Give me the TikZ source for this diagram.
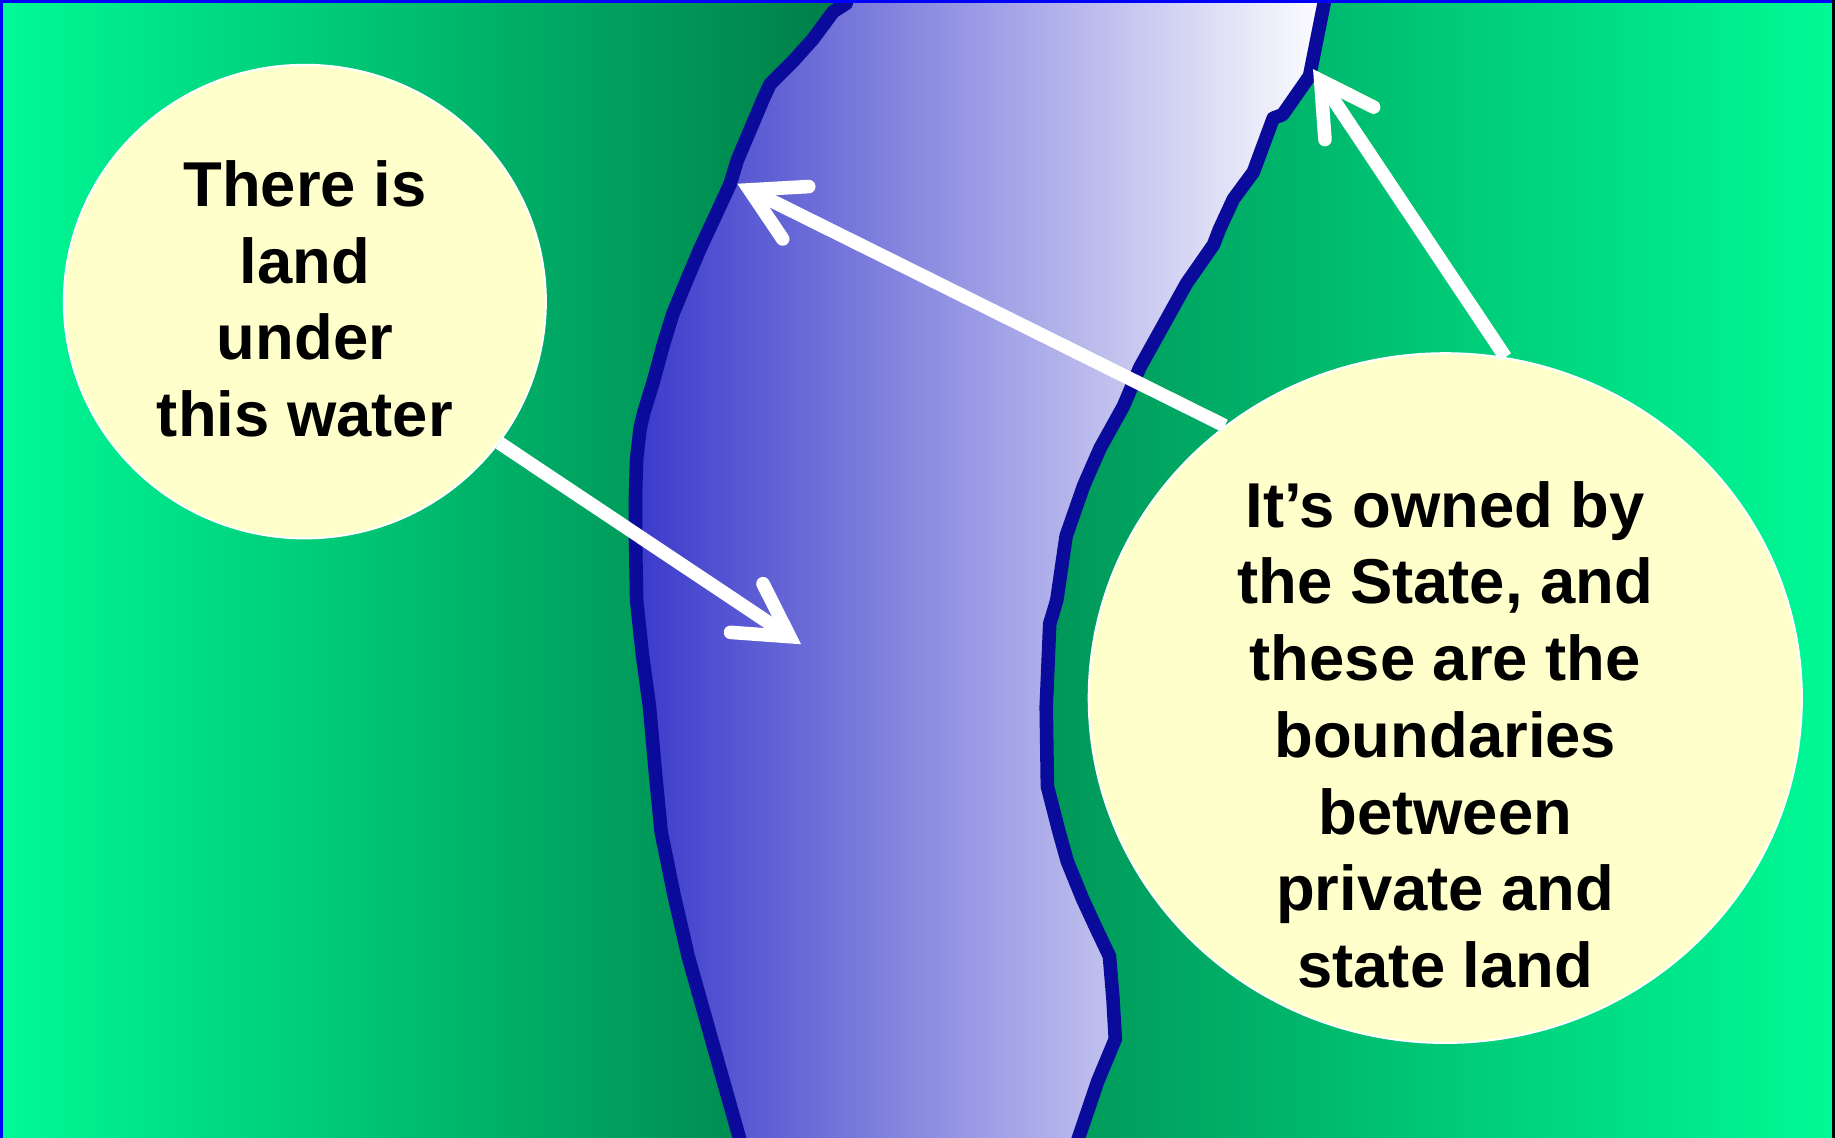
\documentclass[tikz,border=0pt]{standalone}
\usepackage{fontspec}
\setmainfont{Liberation Sans}
\usetikzlibrary{arrows.meta,shapes.geometric}
\definecolor{RBright}{HTML}{00FA96}
\definecolor{RDeep}{HTML}{007D48}
\definecolor{RWater}{HTML}{3A3ACB}
\definecolor{RBank}{HTML}{0B0B9B}
\definecolor{RCream}{HTML}{FFFFCC}
\definecolor{RFrame}{HTML}{0000FF}

\begin{document}
\begin{tikzpicture}[
  x=0.01cm,y=-0.01cm,
  every node/.style={font=\fontsize{15.4}{18.64}\selectfont\bfseries},
  bubble/.style={ellipse,fill=RCream,draw=white,line width=0.5pt,inner sep=0pt},
  bubbletext/.style={align=center,inner sep=0pt},
  pointer/.style={-{Straight Barb[length=4.4mm,width=5mm,line cap=round]},
    white,line width=3.3pt},
  bank/.style={draw=RBank,line width=3.3pt,line join=round}
]
  \useasboundingbox (0,0) rectangle (1568,972);
  \begin{scope}
    \clip (0,0) rectangle (1568,972);
    \shade[left color=RBright,right color=RDeep] (0,0) rectangle (721,972);
    \shade[left color=RDeep,right color=RBright] (720,0) rectangle (1568,972);
    \shadedraw[bank,left color=RWater,right color=white]
      (728,-20) -- (723,3) -- (712,10) -- (695,33) -- (678,52) -- (658,72)
      -- (652,85) -- (641,111) -- (630,137) -- (624,157) -- (612,183)
      -- (598,213) -- (587,239) -- (575,268) -- (567,294) -- (558,327)
      -- (550,353) -- (547,366) -- (544,392) -- (543,425) -- (543,458)
      -- (544,513) -- (549,560) -- (555,604) -- (560,660) -- (565,711)
      -- (576,765) -- (588,817) -- (608,888) -- (634,980) -- (645,1010)
      -- (905,1010) -- (918,983) -- (938,924) -- (953,888) -- (951,853)
      -- (948,817) -- (938,796) -- (925,768) -- (912,736) -- (905,711)
      -- (895,672) -- (894,604) -- (897,533) -- (903,513) -- (911,458)
      -- (926,415) -- (940,383) -- (960,347) -- (974,314) -- (994,278)
      -- (1014,242) -- (1037,209) -- (1042,196) -- (1054,170) -- (1071,147)
      -- (1088,101) -- (1096,98) -- (1119,65) -- (1132,0) -- (1137,-20)
      -- cycle;
    \draw[RFrame,line width=0.05cm] (0,972) -- (0,0) -- (1568,0);
    \draw[black,line width=0.05cm] (1568,0) -- (1568,972);
  \end{scope}

  \node[bubble,minimum width=4.116cm,minimum height=4.044cm] (under) at (260.5,257.7) {};
  \node[bubble,minimum width=6.09cm,minimum height=5.89cm] (owned) at (1235,596.5) {};
  \node[bubbletext] (undertext) at (260.5,255.3) {There is\\land\\under\\this water};
  \node[bubbletext] (ownedtext) at (1235,627.8)
    {It’s owned by\\the State, and\\these are the\\boundaries\\between\\private and\\state land};

  \coordinate (bedpoint) at (684.5,550.5);
  \coordinate (leftbank) at (630,157);
  \coordinate (rightbank) at (1122,59);
  \draw[pointer] (under.-36.5) -- (bedpoint);
  \draw[pointer] (owned.129.6) -- (leftbank);
  \draw[pointer] (owned.80.7) -- (rightbank);
\end{tikzpicture}
\end{document}
